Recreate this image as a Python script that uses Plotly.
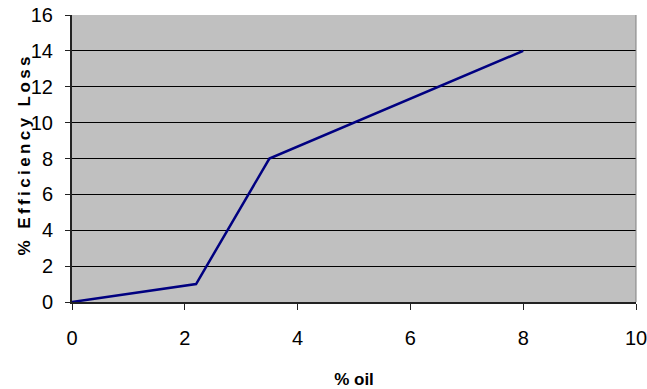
import plotly.graph_objects as go

# % oil vs % efficiency loss
oil_pct = [0, 2.2, 3.5, 8]
efficiency_loss = [0, 1, 8, 14]

x_ticks = [0, 2, 4, 6, 8, 10]
y_ticks = [0, 2, 4, 6, 8, 10, 12, 14, 16]

narrow = "Liberation Sans Narrow, Arial Narrow, Liberation Sans, Arial"
tick_font = dict(family=narrow, size=20, color="black")
x_title_font = dict(family=narrow, size=17, color="black", weight="bold")
y_title_font = dict(family="Liberation Sans, Arial", size=17, color="black", weight="bold")

# letter-spaced y title
y_title = "\u2009".join("% Efficiency Loss")

fig = go.Figure()
fig.add_trace(go.Scatter(
    x=oil_pct, y=efficiency_loss, mode="lines",
    line=dict(color="#000080", width=2.5),
    showlegend=False, hoverinfo="skip",
))

fig.update_layout(
    width=647, height=389,
    margin=dict(l=72, r=11, t=15, b=87, autoexpand=False),
    paper_bgcolor="white",
    plot_bgcolor="#C0C0C0",
    xaxis=dict(
        range=[0, 10], tickvals=x_ticks, ticktext=[str(v) for v in x_ticks],
        showgrid=False, zeroline=False, automargin=False,
        showline=True, linecolor="#222222", linewidth=2,
        ticks="outside", ticklen=6, tickcolor="#222222", tickwidth=1,
        tickfont=tick_font, ticklabelstandoff=11, ticklabeloverflow="allow",
        title=dict(text="% oil", font=x_title_font, standoff=25),
    ),
    yaxis=dict(
        range=[0, 16], tickvals=y_ticks, ticktext=[str(v) for v in y_ticks],
        showgrid=True, gridcolor="black", gridwidth=1,
        zeroline=False, automargin=False,
        showline=True, linecolor="#222222", linewidth=2,
        ticks="outside", ticklen=5, tickcolor="#222222", tickwidth=1,
        tickfont=tick_font, ticklabelstandoff=8, ticklabeloverflow="allow",
    ),
    annotations=[dict(
        text=y_title, font=y_title_font, textangle=-90,
        xref="paper", yref="paper", x=0, y=0.5, xshift=-48, yshift=2,
        xanchor="center", yanchor="middle", showarrow=False,
    )],
    shapes=[dict(type="line", xref="paper", yref="paper", x0=1, x1=1, y0=0, y1=1,
                 line=dict(color="#808080", width=1))],
)

fig.write_html("out.html")
